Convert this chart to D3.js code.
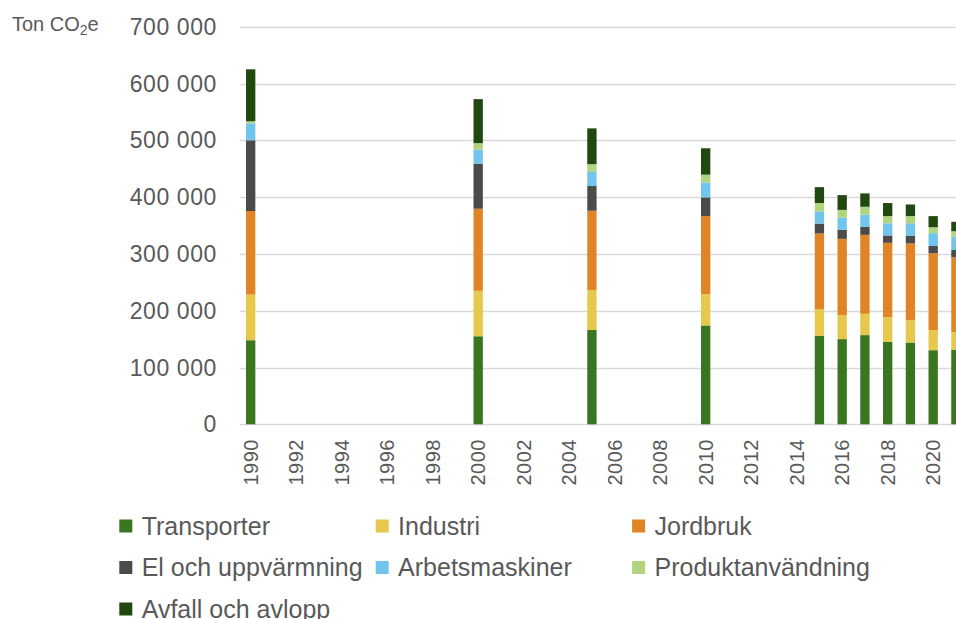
<!DOCTYPE html>
<html>
<head>
<meta charset="utf-8">
<script src="https://cdn.jsdelivr.net/npm/d3@7"></script>
<style>
  body { margin: 0; background: #fff; }
  svg { display: block; font-family: "Liberation Sans", Arial, sans-serif; }
  text { fill: #595959; }
</style>
</head>
<body>
<div id="chart"></div>
<script>
const years = [1990, 2000, 2005, 2010, 2015, 2016, 2017, 2018, 2019, 2020, 2021];
const allYears = [1990, 1991, 1992, 1993, 1994, 1995, 1996, 1997, 1998, 1999, 2000, 2001, 2002, 2003, 2004, 2005,
  2006, 2007, 2008, 2009, 2010, 2011, 2012, 2013, 2014, 2015, 2016, 2017, 2018, 2019, 2020, 2021];
const tickYears = [1990, 1992, 1994, 1996, 1998, 2000, 2002, 2004, 2006, 2008, 2010, 2012, 2014, 2016, 2018, 2020];
const yTicks = [0, 100000, 200000, 300000, 400000, 500000, 600000, 700000];

const seriesNames = ["Transporter", "Industri", "Jordbruk", "El och uppvärmning", "Arbetsmaskiner", "Produktanvändning", "Avfall och avlopp"];
const seriesColors = ["#3a7520", "#e5c84c", "#e08426", "#4b4b49", "#71c4ec", "#b2d47f", "#224812"];

const transporter = [148000, 155000, 166000, 174000, 156000, 150000, 157000, 145000, 144000, 130500, 131500];
const industri = [80500, 80000, 70500, 55000, 46500, 42000, 37500, 43500, 39000, 35500, 31000];
const jordbruk = [147000, 144500, 139500, 137500, 133500, 134500, 139000, 131000, 135500, 135000, 131500];
const elUppvarmning = [124500, 79000, 43500, 33000, 17500, 16000, 14000, 13000, 13500, 13000, 13000];
const arbetsmaskiner = [30000, 25000, 25000, 26000, 21500, 21500, 21500, 21500, 22000, 22500, 23000];
const produktanvandning = [3500, 11500, 13500, 14000, 14500, 13500, 14000, 12500, 12500, 10500, 10000];
const avfallAvlopp = [91500, 77500, 63000, 46500, 28000, 26000, 23500, 23000, 20500, 19500, 16500];

const seriesValues = [transporter, industri, jordbruk, elUppvarmning, arbetsmaskiner, produktanvandning, avfallAvlopp];

const W = 956, H = 619;
const svg = d3.select("#chart").append("svg").attr("width", W).attr("height", H);

// rows for d3.stack
const rows = years.map((year, i) => {
  const row = { year };
  seriesNames.forEach((name, s) => { row[name] = seriesValues[s][i]; });
  return row;
});

const x = d3.scaleBand().domain(allYears).range([239.3, 239.3 + allYears.length * 22.75])
  .paddingInner(0.59).paddingOuter(0.295);
const y = d3.scaleLinear().domain([0, 700000]).range([424.3, 26.7]);

// gridlines
svg.append("g")
  .selectAll("line")
  .data(yTicks)
  .join("line")
  .attr("x1", 240)
  .attr("x2", W)
  .attr("y1", d => Math.round(y(d)) + 0.5)
  .attr("y2", d => Math.round(y(d)) + 0.5)
  .attr("stroke", "#d9d9d9")
  .attr("stroke-width", 1.3);

// y tick labels
const fmt = d => d3.format(",")(d).replace(/,/g, " ");
svg.append("g")
  .selectAll("text")
  .data(yTicks)
  .join("text")
  .attr("x", 217)
  .attr("y", d => y(d))
  .attr("dy", "0.35em")
  .attr("text-anchor", "end")
  .style("font-size", "23px")
  .style("letter-spacing", "0.6px")
  .text(fmt);

// unit label
const unit = svg.append("text").attr("x", 12).attr("y", 30.5).style("font-size", "20px");
unit.append("tspan").text("Ton CO");
unit.append("tspan").attr("dy", 4).style("font-size", "14px").text("2");
unit.append("tspan").attr("dy", -4).text("e");

// stacked bars
const stack = d3.stack().keys(seriesNames)(rows);
svg.append("g")
  .selectAll("g")
  .data(stack)
  .join("g")
  .attr("fill", (d, i) => seriesColors[i])
  .selectAll("rect")
  .data(d => d)
  .join("rect")
  .attr("x", d => x(d.data.year))
  .attr("width", x.bandwidth())
  .attr("y", d => y(d[1]))
  .attr("height", d => y(d[0]) - y(d[1]));

// x tick labels, rotated
svg.append("g")
  .selectAll("text")
  .data(tickYears)
  .join("text")
  .attr("transform", d => `translate(${x(d) + x.bandwidth() / 2},439) rotate(-90)`)
  .attr("text-anchor", "end")
  .attr("dy", "0.35em")
  .style("font-size", "20px")
  .style("letter-spacing", "0.5px")
  .text(d => d);

// legend
const legend = svg.append("g")
  .selectAll("g")
  .data(seriesNames)
  .join("g")
  .attr("transform", (d, i) => `translate(${119.3 + (i % 3) * 256.4},${526 + Math.floor(i / 3) * 41.5})`);

legend.append("rect")
  .attr("x", 0)
  .attr("y", -6.5)
  .attr("width", 13)
  .attr("height", 13)
  .attr("fill", (d, i) => seriesColors[i]);

legend.append("text")
  .attr("x", 22.4)
  .attr("y", 0)
  .attr("dy", "0.35em")
  .style("font-size", "25px")
  .text(d => d);
</script>
</body>
</html>
